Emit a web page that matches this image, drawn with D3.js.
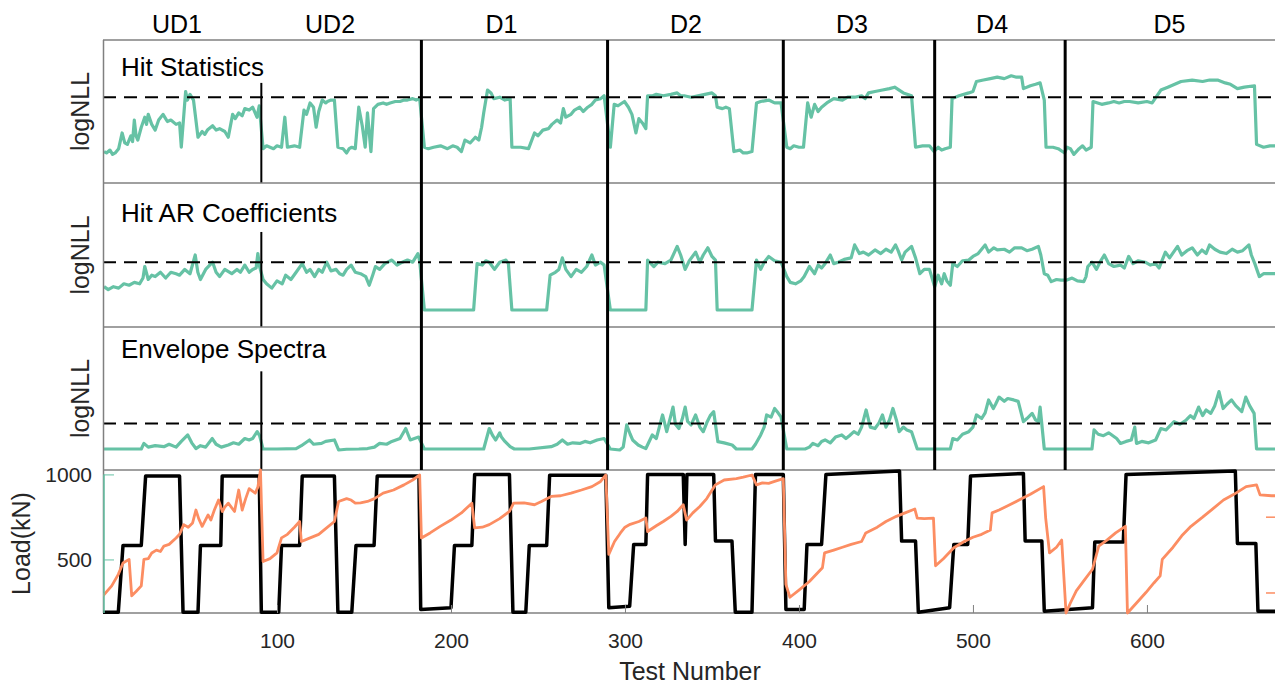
<!DOCTYPE html>
<html>
<head>
<meta charset="utf-8">
<script src="https://cdn.jsdelivr.net/npm/d3@7"></script>
<style>
body { margin: 0; background: #fff; }
text { font-family: "Liberation Sans", Arial, sans-serif; }
</style>
</head>
<body>
<svg id="chart" width="1275" height="688"></svg>
<script>
// test-number / value pairs (logNLL in arbitrary units 0-100)
var hitStats = [[0.6,22],[2,21],[4,23],[5.5,20],[7,21],[9,24],[11,35],[12.5,28],[14,27],[16,33],[17,29],[18,44],[19,33],[20,30],[22,39],[24,46],[25,41],[26,48],[28,41],[30,37],[32,44],[34.5,48],[36,45],[37,43],[39,44],[42,41],[44,42],[45,25],[47.5,64],[48.5,58],[50,62],[52,58],[54.6,32],[57,36],[58.5,34],[60,37],[63,40],[65,37],[67,38],[70,36],[72,32],[74.5,48],[76,45],[78,49],[80,47],[81.5,52],[84,51],[86,53],[88.5,46],[89.8,54],
  [92,24],[94,26],[96,25],[98,24],[100,26],[102.6,25],[104.5,46],[106,25],[110,26],[113,25],[115.5,51],[117,48],[119,56],[121,53],[122.5,39],[124,50],[126,58],[128,56],[129,57],[131,58],[133,58],[135,25],[138,24],[140,21],[141.5,24],[143,25],[145,24],[147,53],[149,40],[150.7,25],[152,49],[154,22],[155.5,52],[158,55],[161,56],[163,55],[165,56],[168,57],[170.7,57],[173,58],[175,58],[178,59],[180,58],[182,59],
  [184.7,25],[187,24],[190,25],[194,26],[196,25],[198,24],[201,26],[203.5,25],[206,22],[208,30],[211,28],[214,32],[216,30],[217.6,39],[218.8,49],[221,65],[223,63],[224.6,59],[228,60],[231,58],[234,59],[235,25],[240,25],[244.6,24],[248,35],[250,33],[252.8,37],[256,38],[258,41],[261,44],[263,42],[264.6,52],[266,46],[269,48],[271,51],[274,53],[276,50],[278.6,53],[281,55],[283,58],[286,59],[288,61],
  [291.6,25],[293.8,55],[296,54],[299.7,57],[302,53],[304,48],[306.3,35],[308,45],[310,42],[312,38],[313,61],[316,61],[318,62],[322,61],[326.4,62],[330,63],[332,61],[334,61],[338,60],[342,61],[346,62],[350,63],[352,61],[353,53],[356,52],[358,53],[360,52],[362.6,22],[366,23],[368,21],[370,21],[373,22],[375.6,56],[378,57],[382.6,58],[386,56],[389.7,56],
  [393,25],[395,24],[397,26],[400,25],[402.6,25],[405,56],[407,46],[409,55],[411,50],[413,53],[416,56],[420,59],[425,58],[428,60],[432,60],[436,61],[438,59],[440,63],[443.7,64],[448,65],[452,66],[455,67],[460,63],[464.7,61],[467,25],[471,26],[475,26],
  [477.6,22],[480,25],[482,23],[484,24],[487,25],[488,59],[492,61],[497.6,63],[500,64],[502,71],[506,72],[510,73],[514,74],[518,73],[522,75],[525,74],[528,74],[529,66],[533,68],[536,69],[538.6,70],[541,58],[542,25],[546,25],[549,24],
  [552.7,21],[554,25],[556,24],[558,20],[561,24],[563,26],[565,23],[568,25],[569,57],[574,55],[578,56],[581,57],[584,56],[587,57],[590,57],[595,56],[600,57],[603,56],[608,65],[612,67],[619.6,71],[626,72],[632,71],[636,72],[640.6,72],[645,70],[648,69],[652,66],[656,67],[661.8,68],[663,27],[667,25],[670.7,26],[674,26]];

var hitAR = [[0.6,28],[3,26],[6,28],[9,27],[12,30],[15,29],[18,31],[21,30],[23,34],[24,42],[26,33],[28,36],[30,35],[33,38],[36,34],[39,38],[42,37],[44,36],[47,40],[50,37],[53,50],[54.5,38],[56,33],[59,40],[63,45],[65,38],[67,35],[70,40],[74,37],[77,40],[79,38],[81.5,43],[84,38],[86,40],[88,41],[89,51],[90,42],
  [92,33],[94,30],[97,27],[100,32],[103,30],[105,36],[108,33],[111,38],[114.5,44],[117,38],[119,40],[121.6,35],[124,40],[126,38],[128.6,45],[131,39],[134,40],[136,37],[138,36],[140,40],[142.6,43],[145,38],[148,37],[151,35],[153,29],[155,36],[156.6,42],[159,40],[162,44],[166,46.5],[169,43],[172,45],[175,46.5],[178,45],[181,51],[182,46],
  [184.7,11.8],[213,11.8],[215,44],[218,43],[220,46],[222,45],[225,40],[228,45],[231.6,46.5],[233,44],[235,11.8],[255,11.8],[257,36],[260,38],[262,40],[264,48],[266,40],[269,35],[272,40],[275,38],[278,42],[281,50],[283,43],[286,45],[288,43],
  [291.6,11.8],[312,11.8],[313,46.5],[316.6,42],[319,45],[323,44],[326.4,46.5],[330,56],[332,50],[334.6,40],[337,46],[340.6,52],[343,45],[345,50],[347.6,55],[350,49],[352,46.5],[353,11.8],[373,11.8],[375.6,46.5],[378,40],[380,45],[382.6,49],[386,46],[389.7,45],
  [393,35],[395,31],[398,30],[401,32],[403,35],[406,42],[409,37],[411,43],[413,41],[415,44],[418,50],[420,44],[422.6,45],[426,47],[430,48],[432,57],[434.7,51],[437,52],[440,50],[443.7,53.5],[447,51],[450,54],[453,52],[455.5,57],[457,53],[459,46.5],[461,52],[464.7,56],[467,48],[469.5,37],[472,40],[475,40],
  [478,28],[480,36],[482,30],[483.5,37],[485,32],[487,29],[488.4,44],[491,42],[494,46],[497.6,46.5],[500,49],[503,51],[507,57],[509,52],[512,55],[514,53.5],[518,54],[521,52],[524,55],[528,55],[531,53],[534,54],[537.6,56],[539,50],[541,37],[543,36],[545,31.5],[548,33],[550.6,32.6],
  [554,32.6],[557,34],[560,32],[563.7,31.5],[565,35],[566,42],[568.4,45],[571,40],[573,45],[575.5,50],[578,44],[581,42],[584.8,43],[587,41],[589.5,49],[592,44],[595,46],[599,45],[602,43],[605,44],[607,41],[610.6,52],[613,48],[617.6,56],[620,50],[623,53],[626,55],[629,50],[631.6,53.5],[634,51],[636,57],[639,54],[642,52],[645.7,51],[649,54],[652,52],[655,53],[658.6,57],[660,50],[662,44],[664.6,35],[667,37],[671,37],[674,37]];

var envSpec = [[0.6,14.7],[10,14.7],[22,14.7],[23.5,18.6],[26,16],[30,17],[35,16.3],[38,18],[42,16],[45,20],[48.7,24.5],[51,19],[53.4,15],[56,17],[59,16],[62.8,22],[65,18],[68,16],[72,17.5],[75,19],[78,18],[81.5,22],[84,21],[86,22],[88.6,26.8],[90,24],
  [92,14.7],[100,14.7],[111,15],[114,17],[118.7,21],[121,18],[125.6,18.6],[128,20],[133,21],[135.4,14],[140,14.5],[147,14.7],[152,15],[156,16],[159,18.6],[163,18],[166,20],[170.7,22],[174,29],[176.6,21],[179,22],[181.4,23],
  [184.7,14.7],[200,14.7],[218.8,14.7],[222,29],[224,24],[225.7,21],[228,26],[229,23],[231,20],[234,16.3],[236.4,14.7],[245,14.7],[257.6,16.3],[261,18],[264,21],[267,18],[270,19],[274,18.6],[277,20],[280,19],[284,21],[288,22],
  [291.6,14.7],[297,14],[299,16],[301,31.5],[303,25],[304.4,21],[307.6,17.5],[310,16],[312,15],[315.7,24.5],[318,22],[321.6,38.5],[324,26.8],[327.6,44],[329,32],[331,29],[333,36],[334.6,44],[336,34],[338,31.5],[340.6,38.5],[343,30],[345,26.8],[347,33],[349,38],[351,40.8],[353.4,19.8],[357,19],[361.6,17.5],[364,14.7],[373,14.7],[375,18],[378,24.5],[380,30],[381.4,38.5],[384,37],[386,43],[388,40],[389.7,37],
  [393,14.7],[403.5,14.7],[406,16],[408,18.6],[411,17],[413,20],[415,21],[418,19],[421,23],[424.6,24.5],[427,22],[429,24],[431.6,26.8],[434,25],[436,30],[438.6,42],[440,35],[441,30],[443.7,29],[446,33],[448,38.5],[450,30],[452,35],[454,43],[456,35],[457.6,26.8],[460,30],[462,28],[464.7,26.8],[468,14.7],[475,14.7],
  [487,14.7],[488.4,22],[491,21],[494,25],[497.6,26.8],[500,30],[502,38.5],[505,36],[507,40],[509,49],[511.7,43],[513,46],[515,51],[518,48],[520,50],[523.4,49],[526,48],[529,33.8],[531,36],[534,39.6],[536,35],[537.6,33.8],[538.6,44],[541,14.7],[550.6,14.7],
  [560,14.7],[568.4,14.7],[569.6,28],[572,25],[575,24],[578,26],[582.6,22],[584.8,18.6],[588,20],[591,21],[593,30],[594,18.6],[597,20],[601,19],[605,21],[608,29],[611,28],[615.6,33.8],[619,32],[622.6,35],[625,38],[627,36],[629.7,44],[632,38],[634,42],[636.7,39.6],[639,45],[641.4,54.8],[643.8,43],[646,46],[648.6,49],[651,45],[654.5,40.8],[656.8,51],[659,45],[661.6,39.6],[663,14.7],[671,14.7],[674,14.7]];

// load in kN (black, left axis)
var load = [[0,190],[8.8,190],[11.5,582],[22,582],[24.5,990],[44,990],[46,190],[54.6,190],[56,582],[67.7,582],[68.5,990],[89.8,990],[91,190],[101,190],[102.6,582],[113,582],[114.5,990],[133,990],[135,190],[143,190],[145.4,582],[155.8,582],[157.6,990],[181.6,990],[182.6,206],[200,216],[202,582],[212,582],[213.6,1000],[233.6,1000],[235.6,190],[243,190],[245,582],[255,582],[256.7,995],[289,995],[290.7,216],[302.7,225],[305,588],[312,588],[313,1000],[333.5,1000],[334.6,588],[335.6,1000],[351,1000],[352,608],[361.5,608],[363.4,190],[373,190],[375,1000],[391,1000],[392.5,206],[403,206],[404.6,588],[413,588],[415.5,1000],[457.8,1020],[459,608],[467,608],[468.6,190],[486.6,216],[489,588],[497,588],[498.6,990],[529,1006],[530,608],[539.6,608],[541,196],[568.7,216],[570,602],[586.4,602],[588,1000],[650.8,1020],[652,594],[662.6,594],[663.8,196],[674,196]];

// second quantity (orange, right axis, relative units)
var second = [[0,12],[5,19],[8.8,27],[11.5,35],[15,37.5],[16.5,12],[19,15],[22,19],[23.5,37.5],[26,38],[28,42],[30.7,44],[33,43],[35,46.8],[38,48],[42,52.5],[44,55],[46.4,61.8],[49,60],[51.5,63],[53.4,72],[55,66],[57,60.6],[60.4,68.6],[62,65],[64,72],[66.4,79],[68.6,71],[70,74],[72,76.8],[75.6,71],[78,86],[80,72],[82,80],[84,87],[87.5,83.8],[89,88],[90.5,100],[92,36],[96,38],[100,42],[102.6,52.5],[106,55],[110,60],[113,64],[114,50],[118,52],[124,55],[128,59],[133,64],[135.4,78],[140,80],[142.6,79],[145,76.8],[148,77],[152,78],[156,80],[161,83.8],[167,86],[173,89.6],[178,93],[182,96.5],[183,52.5],[188,56],[193.8,60.6],[200,65],[206,70],[212,76.8],[213.6,59.5],[218,60],[222,61.8],[228,66],[233.6,71],[236,76.8],[242,77],[248,75.7],[252,78],[257.6,81.5],[263,82],[269,83.8],[275,86],[281,88.4],[286,92],[289,96.5],[290.7,41],[294,50],[297.4,56],[300,60],[303,62],[308,64],[312,66.4],[313,57],[318,61],[322,64],[326.4,67.6],[330,71],[333.5,75.7],[335.4,65],[339,70],[343,74.5],[347,80],[352,89.6],[357,93],[364,94],[368,95],[373,96.5],[375.6,89.6],[379,91],[382.6,90.7],[386,92],[391,94],[392.5,20],[394.8,11],[400,16],[406,22],[413.5,31.7],[414.7,42],[420,44],[425,46],[430,48],[436,50],[438.4,56],[445,60],[450,64],[456,67.6],[461,70],[466.6,72.7],[468,66.4],[472,66],[477.3,66.4],[478.5,33],[483,38],[489,45.6],[495,50],[500,53],[505,55],[510,58],[511,70],[515,72],[520,75],[526.5,79],[533,83],[540.6,88.4],[541.8,66.4],[544,42],[548,46],[551,51],[553.5,0],[556,7],[559.4,15.5],[564,23],[568.7,30.6],[572.3,46.8],[577,51],[582,56],[587.6,60.6],[588.8,0],[594,7],[599.4,14.3],[604,21],[607.6,26],[608.8,37.5],[615,46],[620,54],[625.3,60.6],[632,67],[638,73],[644,79],[650,83],[657,88.4],[663,89.6],[665,82.6],[671.6,82],[674,82]];

var panelTitles = ["Hit Statistics", "Hit AR Coefficients", "Envelope Spectra"];
var thresholds = [60, 45, 32.5];
var thinTop = [70, 66, 69]; // where the UD1/UD2 marker starts in each panel
var groupLabels = ["UD1", "UD2", "D1", "D2", "D3", "D4", "D5"];
var groupLabelAt = [42.5, 130.5, 229, 335, 430.5, 511, 613];
var boundaries = [183, 290, 391, 478, 553];
var udBoundary = 91;
var xTicks = [100, 200, 300, 400, 500, 600];
var loadTicks = [500, 1000];
var rightTicks = [14, 67];

var green = "#66c2a5", orange = "#fc8d62", grey = "#808080", dark = "#262626";

var svg = d3.select("#chart");
var x = d3.scaleLinear().domain([0, 673.6]).range([103, 1275]);

var bands = [[40, 183], [183, 327], [327, 470]];
var bottom = [470, 613];

svg.append("clipPath").attr("id", "plot")
  .append("rect").attr("x", 103).attr("y", 0).attr("width", 1172).attr("height", 688);

var line = d3.line();

// three logNLL panels
bands.forEach(function(b, i){
  var y = d3.scaleLinear().domain([0, 100]).range([b[1], b[0]]);
  var series = [hitStats, hitAR, envSpec][i];
  var g = svg.append("g").attr("clip-path", "url(#plot)");

  g.append("path")
    .attr("d", line.x(function(d){ return x(d[0]) }).y(function(d){ return y(d[1]) })(series))
    .attr("fill", "none").attr("stroke", green).attr("stroke-width", 3.2)
    .attr("stroke-linejoin", "round");

  g.append("line")
    .attr("x1", x(0)).attr("x2", x(673.6))
    .attr("y1", y(thresholds[i])).attr("y2", y(thresholds[i]))
    .attr("stroke", "#000").attr("stroke-width", 2).attr("stroke-dasharray", "13,8");

  g.append("line")
    .attr("x1", x(udBoundary)).attr("x2", x(udBoundary))
    .attr("y1", y(thinTop[i])).attr("y2", b[1])
    .attr("stroke", "#000").attr("stroke-width", 2);

  svg.append("text").attr("x", 121).attr("y", y(100) + [36, 39, 31][i])
    .attr("font-size", 26).attr("fill", "#000").text(panelTitles[i]);

  svg.append("text")
    .attr("transform", "translate(89," + ((b[0] + b[1]) / 2) + ") rotate(-90)")
    .attr("text-anchor", "middle").attr("font-size", 25).attr("fill", dark)
    .text("logNLL");
});

// frame lines
svg.append("line").attr("x1", 103).attr("x2", 1275).attr("y1", 40).attr("y2", 40)
  .attr("stroke", grey).attr("stroke-width", 1.5);
[183, 327, 470, 613].forEach(function(yy){
  svg.append("line").attr("x1", 103).attr("x2", 1275).attr("y1", yy).attr("y2", yy)
    .attr("stroke", grey).attr("stroke-width", 1.5);
});
svg.append("line").attr("x1", 103.5).attr("x2", 103.5).attr("y1", 40).attr("y2", 613)
  .attr("stroke", grey).attr("stroke-width", 1.5);

// phase boundaries
svg.selectAll(".bound").data(boundaries).enter().append("line")
  .attr("x1", function(d){ return x(d) }).attr("x2", function(d){ return x(d) })
  .attr("y1", 40).attr("y2", 470)
  .attr("stroke", "#000").attr("stroke-width", 3);

// group labels
svg.selectAll(".grp").data(groupLabels).enter().append("text")
  .attr("x", function(d, i){ return x(groupLabelAt[i]) }).attr("y", 33)
  .attr("text-anchor", "middle").attr("font-size", 25).attr("fill", "#000")
  .text(function(d){ return d });

// load panel
var yL = d3.scaleLinear().domain([185, 1026]).range([bottom[1], bottom[0]]);
var yR = d3.scaleLinear().domain([0, 100]).range([bottom[1], bottom[0]]);
var gb = svg.append("g").attr("clip-path", "url(#plot)");

gb.append("path")
  .attr("d", d3.line().x(function(d){ return x(d[0]) }).y(function(d){ return yL(d[1]) })(load))
  .attr("fill", "none").attr("stroke", "#000").attr("stroke-width", 3.5).attr("stroke-linejoin", "round");

gb.append("path")
  .attr("d", d3.line().x(function(d){ return x(d[0]) }).y(function(d){ return yR(d[1]) })(second))
  .attr("fill", "none").attr("stroke", orange).attr("stroke-width", 2.8).attr("stroke-linejoin", "round");

// x axis (ticks inside)
var xAxis = svg.append("g").attr("transform", "translate(0," + bottom[1] + ")")
  .call(d3.axisBottom(x).tickValues(xTicks).tickSize(-8).tickPadding(20));
xAxis.select(".domain").remove();
xAxis.selectAll("line").attr("stroke", grey);
xAxis.selectAll("text").attr("font-size", 21).attr("fill", dark)
  .attr("font-family", "Liberation Sans, Arial, sans-serif");

// left load axis
svg.append("line").attr("x1", 104).attr("x2", 104).attr("y1", yL(1000)).attr("y2", bottom[1])
  .attr("stroke", green).attr("stroke-width", 1.5);
var yAxis = svg.append("g").attr("transform", "translate(104,0)")
  .call(d3.axisLeft(yL).tickValues(loadTicks).tickFormat(d3.format("d")).tickSize(-10).tickPadding(12));
yAxis.select(".domain").remove();
yAxis.selectAll("line").attr("stroke", green);
yAxis.selectAll("text").attr("font-size", 21).attr("fill", dark)
  .attr("font-family", "Liberation Sans, Arial, sans-serif");

// right axis ticks (labels fall outside the picture)
svg.selectAll(".rt").data(rightTicks).enter().append("line")
  .attr("x1", 1266).attr("x2", 1275)
  .attr("y1", function(d){ return yR(d) }).attr("y2", function(d){ return yR(d) })
  .attr("stroke", orange).attr("stroke-width", 1.5);

svg.append("text")
  .attr("transform", "translate(30," + ((bottom[0] + bottom[1]) / 2 + 2) + ") rotate(-90)")
  .attr("text-anchor", "middle").attr("font-size", 25).attr("fill", dark)
  .text("Load(kN)");

svg.append("text").attr("x", 690).attr("y", 680)
  .attr("text-anchor", "middle").attr("font-size", 25).attr("fill", dark)
  .text("Test Number");
</script>
</body>
</html>
